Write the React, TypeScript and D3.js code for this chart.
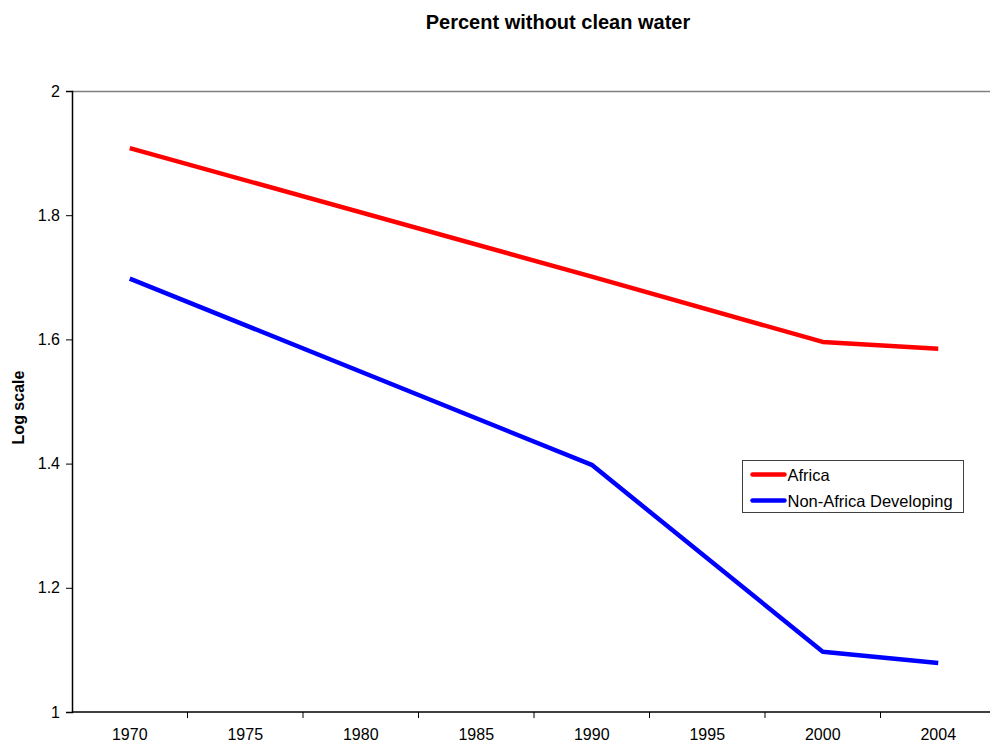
import React, { useRef, useEffect } from 'react';
import * as d3 from 'd3';

const years = ['1970', '1975', '1980', '1985', '1990', '1995', '2000', '2004'];
const africa: (number | null)[] = [1.908, null, null, null, 1.701, null, 1.596, 1.585];
const nonAfrica: (number | null)[] = [1.698, null, null, null, 1.398, null, 1.097, 1.079];
const yTicks = [1, 1.2, 1.4, 1.6, 1.8, 2];
const seriesNames = ['Africa', 'Non-Africa Developing'];
const seriesColors = ['#ff0000', '#0000ff'];

const W = 990;
const H = 746;

const App = () => {
  const svgRef = useRef<SVGSVGElement>(null);

  useEffect(() => {
    const svg = d3.select(svgRef.current);
    svg.selectAll('*').remove();

    const margin = { top: 91, left: 72, bottom: 34 };
    const bandW = 115.5;
    const plotRight = margin.left + bandW * years.length;
    const plotBottom = H - margin.bottom;
    const font = 'Liberation Sans, Arial, sans-serif';

    const x = d3.scaleBand().domain(years).range([margin.left, plotRight]).padding(0);
    const y = d3.scaleLinear().domain([1, 2]).range([plotBottom, margin.top]);

    // top border (gray)
    svg.append('line')
      .attr('x1', margin.left).attr('x2', plotRight)
      .attr('y1', margin.top + 0.5).attr('y2', margin.top + 0.5)
      .style('stroke', '#808080').style('stroke-width', 1.5);

    // y axis
    const yAxis = svg.append('g')
      .attr('transform', `translate(${margin.left},0)`)
      .call(d3.axisLeft(y).tickValues(yTicks).tickSize(6).tickFormat(d3.format('')));
    yAxis.select('.domain').style('stroke', '#000').style('stroke-width', 1.5);
    yAxis.selectAll('line').style('stroke', '#000');
    yAxis.selectAll('text')
      .attr('x', -12)
      .style('font-family', font).style('font-size', '16px').style('fill', '#000');

    // x axis (ticks between categories)
    const xAxis = svg.append('g').attr('transform', `translate(0,${plotBottom})`);
    xAxis.append('line')
      .attr('x1', margin.left).attr('x2', plotRight)
      .style('stroke', '#000').style('stroke-width', 1.5);
    xAxis.selectAll('.tick')
      .data(years.slice(1))
      .enter()
      .append('line')
      .attr('x1', d => x(d)!).attr('x2', d => x(d)!)
      .attr('y1', 0).attr('y2', 6)
      .style('stroke', '#000');
    xAxis.selectAll('.label')
      .data(years)
      .enter()
      .append('text')
      .attr('x', d => x(d)! + bandW / 2)
      .attr('y', 28)
      .attr('text-anchor', 'middle')
      .style('font-family', font).style('font-size', '16px')
      .text(d => d);

    // lines
    [africa, nonAfrica].forEach((vals, i) => {
      const pts = years
        .map((yr, j) => ({ yr, v: vals[j] }))
        .filter(p => p.v !== null) as { yr: string; v: number }[];
      const line = d3.line<{ yr: string; v: number }>()
        .x(p => x(p.yr)! + bandW / 2)
        .y(p => y(p.v));
      svg.append('path')
        .datum(pts)
        .attr('d', line)
        .style('fill', 'none')
        .style('stroke', seriesColors[i])
        .style('stroke-width', 4.5)
        .style('stroke-linejoin', 'round');
    });

    // title
    svg.append('text')
      .attr('x', 558).attr('y', 29)
      .attr('text-anchor', 'middle')
      .style('font-family', font).style('font-size', '20px').style('font-weight', 'bold')
      .text('Percent without clean water');

    // y label
    svg.append('text')
      .attr('transform', `translate(24,${(margin.top + plotBottom) / 2 + 6}) rotate(-90)`)
      .attr('text-anchor', 'middle')
      .style('font-family', font).style('font-size', '16px').style('font-weight', 'bold')
      .text('Log scale');

    // legend
    const lg = svg.append('g').attr('transform', 'translate(742.5,460.5)');
    lg.append('rect')
      .attr('width', 221).attr('height', 52)
      .style('fill', '#fff').style('stroke', '#404040').style('stroke-width', 1);
    seriesNames.forEach((name, i) => {
      const cy = 14 + i * 26;
      lg.append('line')
        .attr('x1', 10).attr('x2', 42).attr('y1', cy).attr('y2', cy)
        .style('stroke', seriesColors[i]).style('stroke-width', 4.5)
        .style('stroke-linecap', 'round');
      lg.append('text')
        .attr('x', 45).attr('y', cy + 6)
        .style('font-family', font).style('font-size', '16.5px')
        .text(name);
    });
  }, []);

  return (
    <div style={{ position: 'absolute', left: 0, top: 0, width: W, height: H, overflow: 'hidden', background: '#fff' }}>
      <svg ref={svgRef} width={W} height={H} style={{ display: 'block' }}></svg>
    </div>
  );
};

export default App;
